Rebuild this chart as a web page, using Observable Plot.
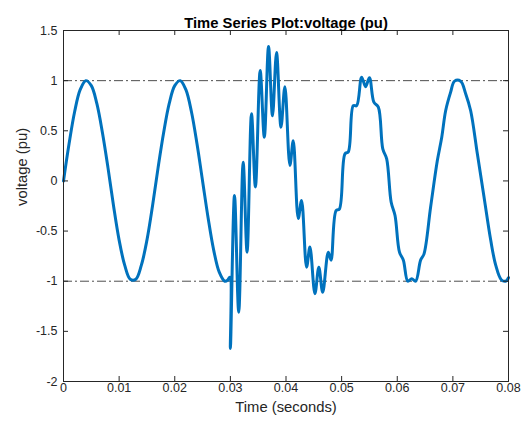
<!DOCTYPE html>
<html><head><meta charset="utf-8">
<script src="https://cdn.jsdelivr.net/npm/d3@7"></script>
<script src="https://cdn.jsdelivr.net/npm/@observablehq/plot@0.6"></script>
<style>html,body{margin:0;padding:0;background:#fff} svg{display:block}</style>
</head><body><div id="chart"></div>
<script>
const time = [
  0, 0.001, 0.002, 0.003, 0.004, 0.005, 0.006, 0.007, 0.008, 0.009,
  0.010, 0.011, 0.012, 0.013, 0.014, 0.015, 0.016, 0.017, 0.018, 0.019,
  0.020, 0.021, 0.022, 0.023, 0.024, 0.025, 0.026, 0.027, 0.028, 0.029,
  0.0295, 0.0299, 0.0300, 0.03074, 0.0315, 0.0323, 0.0330, 0.0338, 0.0345, 0.03536,
  0.0361, 0.03686, 0.03757, 0.0383, 0.0391, 0.0398, 0.0407, 0.0413, 0.0422, 0.0428,
  0.0437, 0.0443, 0.0452, 0.0459, 0.0466, 0.0476, 0.0481, 0.0490, 0.0496, 0.0506,
  0.0512, 0.0521, 0.0527, 0.0536, 0.0543, 0.0550, 0.0558, 0.0566, 0.0574, 0.0581,
  0.0589, 0.0596, 0.0604, 0.0611, 0.0619, 0.0626, 0.0633, 0.0642, 0.0648, 0.0660,
  0.0672, 0.0680, 0.0687, 0.0696, 0.0703, 0.0714, 0.0723, 0.0732, 0.0744, 0.0756,
  0.0768, 0.0777, 0.0787, 0.0795, 0.0800
];
const voltage = [
  0, 0.37, 0.69, 0.91, 1.0, 0.95, 0.77, 0.48, 0.13, -0.25,
  -0.59, -0.84, -0.98, -0.98, -0.84, -0.59, -0.25, 0.13, 0.48, 0.77,
  0.95, 1.0, 0.91, 0.69, 0.37, 0, -0.37, -0.69, -0.91, -1.0,
  -0.99, -0.96, -1.67, -0.145, -1.31, 0.187, -0.71, 0.67, -0.06, 1.10,
  0.436, 1.34, 0.65, 1.28, 0.536, 0.94, 0.154, 0.40, -0.375, -0.195,
  -0.86, -0.66, -1.125, -0.86, -1.11, -0.71, -0.79, -0.295, -0.28, 0.27,
  0.29, 0.75, 0.75, 1.035, 0.94, 1.03, 0.785, 0.735, 0.32, 0.22,
  -0.21, -0.345, -0.71, -0.79, -1.0, -0.975, -1.0, -0.79, -0.73, -0.26,
  0.2, 0.436, 0.70, 0.885, 0.995, 0.995, 0.87, 0.70, 0.27, -0.16,
  -0.59, -0.84, -0.985, -1.0, -0.965
];
const xTicks = [0, 0.01, 0.02, 0.03, 0.04, 0.05, 0.06, 0.07, 0.08];
const yTicks = [-2, -1.5, -1, -0.5, 0, 0.5, 1, 1.5];
const refLevels = [-1, 1];
const titleText = "Time Series Plot:voltage (pu)";
const xLabel = "Time (seconds)";
const yLabel = "voltage (pu)";

const data = time.map((t, i) => ({t, v: voltage[i]}));
const font = "'Liberation Sans', Arial, Helvetica, sans-serif";
const W = 525, H = 426, mL = 63, mR = 17, mT = 30, mB = 45;
const iw = W - mL - mR, ih = H - mT - mB, tk = 5;

const plot = Plot.plot({
  width: W, height: H,
  marginLeft: mL, marginRight: mR, marginTop: mT, marginBottom: mB,
  style: {fontFamily: font, background: "#fff", color: "#262626", overflow: "visible"},
  x: {domain: [0, 0.08]},
  y: {domain: [-2, 1.5]},
  marks: [
    Plot.ruleY(refLevels, {y: d => d, stroke: "#3a3a3a", strokeWidth: 0.9, strokeDasharray: "9,3,2,3"}),
    Plot.line(data, {x: "t", y: "v", stroke: "#0072BD", strokeWidth: 3, curve: "catmull-rom"}),
    Plot.frame({stroke: "#262626", strokeWidth: 1}),
    Plot.tickX(xTicks, {x: d => d, insetTop: ih - tk, stroke: "#262626"}),
    Plot.tickX(xTicks, {x: d => d, insetBottom: ih - tk, stroke: "#262626"}),
    Plot.tickY(yTicks, {y: d => d, insetRight: iw - tk, stroke: "#262626"}),
    Plot.tickY(yTicks, {y: d => d, insetLeft: iw - tk, stroke: "#262626"}),
    Plot.axisX({ticks: xTicks, tickSize: 0, tickPadding: 2, tickFormat: d => String(d), fontSize: 12.5, label: null}),
    Plot.axisY({ticks: yTicks, tickSize: 0, tickPadding: 6, tickFormat: d => String(d), fontSize: 12.5, label: null}),
    Plot.text([titleText], {text: d => d, frameAnchor: "top", dy: -13, fontWeight: "bold", fontSize: 14.8, fill: "#000"}),
    Plot.text([xLabel], {text: d => d, frameAnchor: "bottom", dy: 30, fontSize: 14.8, fill: "#262626"}),
    Plot.text([yLabel], {text: d => d, frameAnchor: "left", dx: -41, rotate: -90, fontSize: 14.8, fill: "#262626"})
  ]
});
document.getElementById("chart").appendChild(plot);
</script>
</body></html>
